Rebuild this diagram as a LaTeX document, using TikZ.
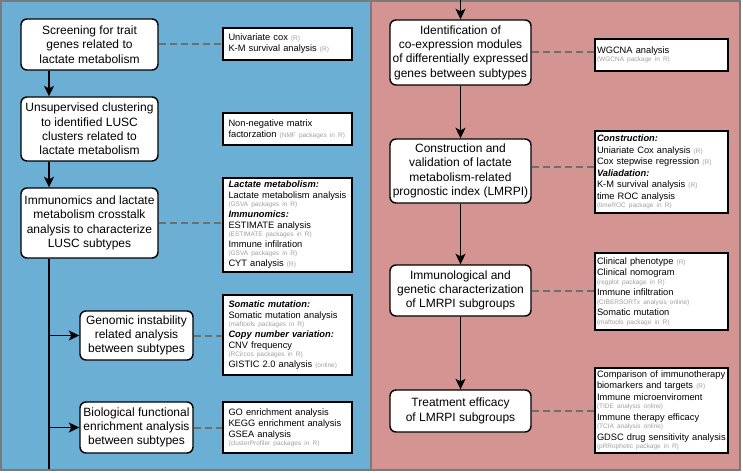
\documentclass[tikz,border=0pt]{standalone}
\usepackage{fontspec}
\setmainfont{Liberation Sans}
\usetikzlibrary{arrows.meta}
\definecolor{panelblue}{HTML}{6BAFD4}
\definecolor{panelpink}{HTML}{D49492}
\definecolor{panelborder}{HTML}{7A7A7A}
\definecolor{dashgray}{HTML}{6E6E6E}
\definecolor{smallgray}{HTML}{A0A0A0}
\newcommand\smalltxt[1]{{\fontsize{6.5}{7}\selectfont\color{smallgray}#1}}
\newcommand\hdr[1]{\textbf{\textit{#1}}}
\begin{document}
\begin{tikzpicture}[x=1pt,y=-1pt,
 mainbox/.style={draw=black, fill=white, line width=1.4pt, rounded corners=6pt, align=center, font=\fontsize{12}{14.3}\selectfont, inner sep=1pt},
 infoL/.style={draw=black, fill=white, line width=1.4pt, align=left, font=\fontsize{9.3}{11}\selectfont, text width=118pt, inner xsep=5.5pt, inner ysep=1pt, minimum width=129pt},
 infoR/.style={draw=black, fill=white, line width=1.4pt, align=left, font=\fontsize{9.3}{11.5}\selectfont, text width=129pt, inner xsep=2pt, inner ysep=1pt, minimum width=133pt},
 arr/.style={line width=1.3pt, -{Stealth[length=10.5pt,width=10pt,inset=2.5pt]}},
 spineline/.style={line width=1.3pt},
 dashlink/.style={draw=dashgray, line width=2pt, dash pattern=on 7pt off 4pt},
 panel/.style={draw=panelborder, line width=2pt}]
\useasboundingbox (0,0) rectangle (743,473);
% panels
\filldraw[panel, fill=panelblue] (1,1) rectangle (371,469.5);
\filldraw[panel, fill=panelpink] (371,1) rectangle (739.5,469.5);

% left main boxes
\node[mainbox, minimum width=137pt, minimum height=51pt] (B1) at (89.5,44.5) {Screening for trait\\genes related to\\lactate metabolism};
\node[mainbox, minimum width=137pt, minimum height=64pt] (B2) at (89.5,129) {Unsupervised clustering\\to identified LUSC\\clusters related to\\lactate metabolism};
\node[mainbox, minimum width=137pt, minimum height=70pt] (B3) at (89.5,223) {Immunomics and lactate\\metabolism crosstalk\\analysis to characterize\\LUSC subtypes};
\node[mainbox, minimum width=113pt, minimum height=49pt] (B4) at (136.5,335.5) {Genomic instability\\related analysis\\between subtypes};
\node[mainbox, minimum width=113pt, minimum height=51pt] (B5) at (136.5,427.5) {Biological functional\\enrichment analysis\\between subtypes};

% left info boxes
\node[infoL, minimum height=32pt] (I1) at (287.5,44) {Univariate cox \smalltxt{(R)}\\K-M survival analysis \smalltxt{(R)}};
\node[infoL, minimum height=32pt] (I2) at (287.5,129) {Non-negative matrix\\factorzation \smalltxt{(NMF packages in R)}};
\node[infoL, minimum height=94pt] (I3) at (287.5,225) {\hdr{Lactate metabolism:}\\Lactate metabolism analysis\\[-3pt]\smalltxt{(GSVA packages in R)}\\\hdr{Immunomics:}\\ESTIMATE analysis\\[-3pt]\smalltxt{(ESTIMATE packages in R)}\\Immune infilration\\[-3pt]\smalltxt{(GSVA packages in R)}\\CYT analysis \smalltxt{(R)}};
\node[infoL, minimum height=80pt] (I4) at (287.5,335) {\hdr{Somatic mutation:}\\Somatic mutation analysis\\[-3pt]\smalltxt{(maftools packages in R)}\\\hdr{Copy number variation:}\\CNV frequency\\[-3pt]\smalltxt{(RCircos packages in R)}\\GISTIC 2.0 analysis \smalltxt{(online)}};
\node[infoL, minimum height=51pt] (I5) at (287.5,427.5) {GO enrichment analysis\\KEGG enrichment analysis\\GSEA analysis\\[-3pt]\smalltxt{(clusterProfiler packages in R)}};

% right main boxes
\node[mainbox, minimum width=141pt, minimum height=65pt] (R1) at (460.5,52.5) {Identification of\\co-expression modules\\of differentially expressed\\genes between subtypes};
\node[mainbox, minimum width=141pt, minimum height=64pt] (R2) at (460.5,171) {Construction and\\validation of lactate\\metabolism-related\\prognostic index (LMRPI)};
\node[mainbox, minimum width=141pt, minimum height=51pt] (R3) at (460.5,290.5) {Immunological and\\genetic characterization\\of LMRPI subgroups};
\node[mainbox, minimum width=141pt, minimum height=42pt] (R4) at (460.5,411) {Treatment efficacy\\of LMRPI subgroups};

% right info boxes
\node[infoR, minimum height=32pt] (RI1) at (661.5,55) {WGCNA analysis\\[-3pt]\smalltxt{(WGCNA package in R)}};
\node[infoR, minimum height=82pt] (RI2) at (661.5,172) {\hdr{Construction:}\\Uniariate Cox analysis \smalltxt{(R)}\\Cox stepwise regression \smalltxt{(R)}\\\hdr{Valiadation:}\\K-M survival analysis \smalltxt{(R)}\\time ROC analysis\\[-3pt]\smalltxt{(timeROC package in R)}};
\node[infoR, minimum height=77pt] (RI3) at (661.5,291.5) {Clinical phenotype \smalltxt{(R)}\\Clinical nomogram\\[-3pt]\smalltxt{(regplot package in R)}\\Immune infiltration\\[-3pt]\smalltxt{(CIBERSORTx analysis online)}\\Somatic mutation\\[-3pt]\smalltxt{(maftools package in R)}};
\node[infoR, minimum height=85pt] (RI4) at (661.5,410.5) {Comparison of immunotherapy\\biomarkers and targets \smalltxt{(R)}\\Immune microenviroment\\[-3pt]\smalltxt{(TIDE analysis online)}\\Immune therapy efficacy\\[-3pt]\smalltxt{(TCIA analysis online)}\\GDSC drug sensitivity analysis\\[-3pt]\smalltxt{(pRRophetic package in R)}};

% coordinates
\coordinate (spine) at (49,0);
\coordinate (spinebot) at (49,469);
\coordinate (rtop) at (460.5,0);

% left connectors
\draw[arr] (B1.south -| spine) -- (B2.north -| spine);
\draw[arr] (B2.south -| spine) -- (B3.north -| spine);
\draw[spineline] (B3.south -| spine) -- (spinebot);
\draw[arr] (B4.west -| spine) -- (B4.west);
\draw[arr] (B5.west -| spine) -- (B5.west);

% right connectors
\draw[arr] (rtop) -- (R1.north);
\draw[arr] (R1) -- (R2);
\draw[arr] (R2) -- (R3);
\draw[arr] (R3) -- (R4);

% dashed links
\draw[dashlink] (B1.east) -- (B1.east -| I1.west);
\draw[dashlink] (B3.east) -- (B3.east -| I3.west);
\draw[dashlink] (B4.east) -- (B4.east -| I4.west);
\draw[dashlink] (B5.east) -- (B5.east -| I5.west);
\draw[dashlink] (R1.east) -- (R1.east -| RI1.west);
\draw[dashlink] ([yshift=4pt]R2.east) -- ([yshift=4pt]R2.east -| RI2.west);
\draw[dashlink] (R3.east) -- (R3.east -| RI3.west);
\draw[dashlink] (R4.east) -- (R4.east -| RI4.west);
\end{tikzpicture}
\end{document}
